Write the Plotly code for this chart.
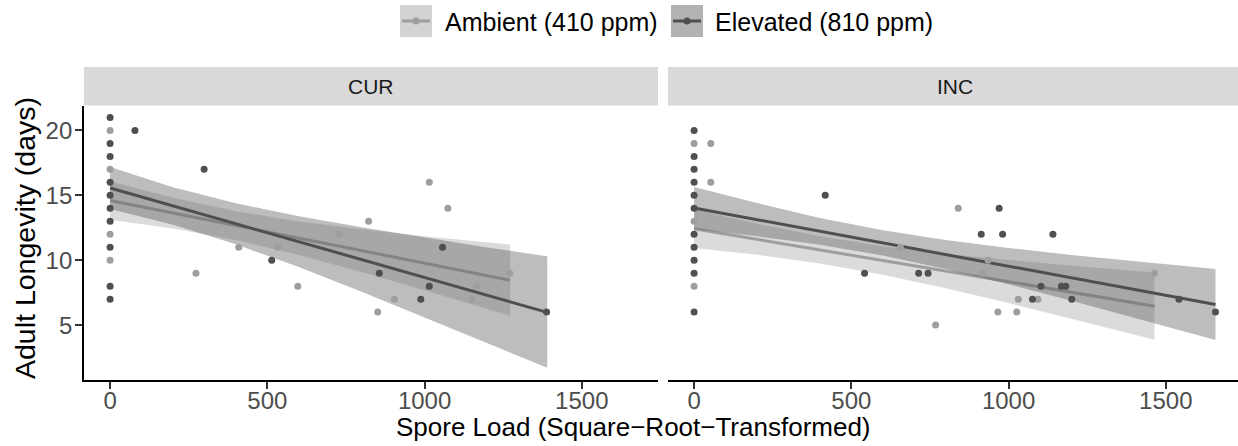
import plotly.graph_objects as go

# ---------------- data ----------------
# CUR panel, Ambient (410 ppm)
cur_amb_x = [0, 0, 0, 0, 273, 409, 534, 597, 729, 822, 851, 904, 1015, 1074, 1150, 1165, 1271]
cur_amb_y = [20, 17, 12, 10, 9, 11, 11, 8, 12, 13, 6, 7, 16, 14, 7, 8, 9]
# CUR panel, Elevated (810 ppm)
cur_elv_x = [0, 0, 0, 0, 0, 0, 0, 0, 0, 0, 79, 299, 514, 856, 988, 1015, 1057, 1388]
cur_elv_y = [21, 19, 18, 16, 15, 14, 13, 11, 8, 7, 20, 17, 10, 9, 7, 8, 11, 6]
# INC panel, Ambient (410 ppm)
inc_amb_x = [0, 0, 0, 53, 53, 656, 768, 840, 915, 935, 966, 1026, 1031, 1093, 1464]
inc_amb_y = [19, 13, 8, 19, 16, 11, 5, 14, 9, 10, 6, 6, 7, 7, 9]
# INC panel, Elevated (810 ppm)
inc_elv_x = [0, 0, 0, 0, 0, 0, 0, 0, 0, 0, 0, 417, 542, 714, 744, 913, 970, 981,
             1076, 1103, 1141, 1168, 1182, 1201, 1542, 1658]
inc_elv_y = [20, 18, 17, 16, 15, 14, 12, 11, 10, 9, 6, 15, 9, 9, 9, 12, 14, 12,
             7, 8, 12, 8, 8, 7, 7, 6]

# fitted lines with confidence bands
cur_amb_fx = [0, 200, 400, 600, 800, 1000, 1272]
cur_amb_fy = [14.60, 13.63, 12.67, 11.70, 10.74, 9.77, 8.46]
cur_amb_lo = [13.12, 12.45, 11.56, 10.41, 9.10, 7.69, 5.71]
cur_amb_hi = [16.08, 14.81, 13.78, 12.99, 12.38, 11.85, 11.21]

cur_elv_fx = [0, 200, 400, 600, 800, 1000, 1200, 1390]
cur_elv_fy = [15.56, 14.18, 12.80, 11.43, 10.05, 8.67, 7.29, 5.98]
cur_elv_lo = [13.94, 12.74, 11.22, 9.47, 7.57, 5.60, 3.60, 1.72]
cur_elv_hi = [17.18, 15.62, 14.38, 13.39, 12.53, 11.74, 10.98, 10.30]

inc_amb_fx = [0, 200, 400, 600, 800, 1000, 1200, 1464]
inc_amb_fy = [12.42, 11.61, 10.79, 9.98, 9.16, 8.35, 7.53, 6.46]
inc_amb_lo = [10.94, 10.42, 9.74, 8.88, 7.84, 6.70, 5.49, 3.87]
inc_amb_hi = [13.90, 12.80, 11.84, 11.08, 10.48, 10.00, 9.57, 9.05]

inc_elv_fx = [0, 200, 400, 600, 800, 1000, 1200, 1400, 1658]
inc_elv_fy = [14.02, 13.12, 12.23, 11.33, 10.44, 9.54, 8.64, 7.75, 6.59]
inc_elv_lo = [12.40, 11.84, 11.20, 10.36, 9.33, 8.14, 6.87, 5.57, 3.86]
inc_elv_hi = [15.64, 14.40, 13.26, 12.30, 11.55, 10.95, 10.41, 9.93, 9.32]

groups = ["Ambient (410 ppm)", "Elevated (810 ppm)"]
panels = ["CUR", "INC"]
x_ticks = [0, 500, 1000, 1500]
y_ticks = [5, 10, 15, 20]

# ---------------- styles ----------------
FONT = "Liberation Sans, Arial, Helvetica, sans-serif"
pt_col = {"amb": "#9E9E9E", "elv": "#4F4F4F"}
band_col = {"amb": "rgba(160,160,160,0.38)", "elv": "rgba(90,90,90,0.40)"}
key_col = {"amb": "#D3D3D3", "elv": "#B3B3B3"}

W, H = 1238, 446
ML, MR, MT, MB = 84, 0, 67, 66
PW, PH = W - ML - MR, H - MT - MB


def px(x):
    return (x - ML) / PW


def py(y):
    return (H - MB - y) / PH


fig = go.Figure()

panel_data = [
    ("x", "y", [
        ("amb", cur_amb_fx, cur_amb_fy, cur_amb_lo, cur_amb_hi, cur_amb_x, cur_amb_y),
        ("elv", cur_elv_fx, cur_elv_fy, cur_elv_lo, cur_elv_hi, cur_elv_x, cur_elv_y),
    ]),
    ("x2", "y2", [
        ("amb", inc_amb_fx, inc_amb_fy, inc_amb_lo, inc_amb_hi, inc_amb_x, inc_amb_y),
        ("elv", inc_elv_fx, inc_elv_fy, inc_elv_lo, inc_elv_hi, inc_elv_x, inc_elv_y),
    ]),
]

for xa, ya, series in panel_data:
    # smooth layers: ribbon + line per group
    for key, fx, fy, lo, hi, _, _ in series:
        fig.add_trace(go.Scatter(
            x=list(fx) + list(fx)[::-1], y=list(hi) + list(lo)[::-1],
            fill="toself", fillcolor=band_col[key], line=dict(width=0),
            mode="lines", hoverinfo="skip", showlegend=False, xaxis=xa, yaxis=ya))
        fig.add_trace(go.Scatter(
            x=fx, y=fy, mode="lines", line=dict(color=pt_col[key], width=3),
            showlegend=False, xaxis=xa, yaxis=ya))
    # points on top
    for key, _, _, _, _, x, y in series:
        fig.add_trace(go.Scatter(
            x=x, y=y, mode="markers",
            marker=dict(color=pt_col[key], size=7, line=dict(width=0)),
            showlegend=False, xaxis=xa, yaxis=ya))

scale = 0.31447  # px per x unit
x0 = -83
left_w = 574
right_start = 668
right_w = W - right_start

xcommon = dict(tickmode="array", tickvals=x_ticks, ticktext=[str(v) for v in x_ticks],
               ticks="outside", ticklen=7, tickwidth=1.5, tickcolor="#333333",
               ticklabelstandoff=-9,
               showline=True, linecolor="black", linewidth=1.8, showgrid=False,
               zeroline=False, tickfont=dict(family=FONT, size=24, color="#4D4D4D"))

ydom = [0, py(105.5)]

fig.update_layout(
    width=W, height=H,
    margin=dict(l=ML, r=MR, t=MT, b=MB, autoexpand=False),
    paper_bgcolor="white", plot_bgcolor="white",
    showlegend=False,
    xaxis=dict(domain=[0, left_w / PW], range=[x0, x0 + left_w / scale], anchor="y", **xcommon),
    xaxis2=dict(domain=[px(right_start), 1], range=[x0, x0 + right_w / scale], anchor="y2", **xcommon),
    yaxis=dict(domain=ydom, range=[0.77, 21.92], anchor="x", tickmode="array",
               tickvals=y_ticks, ticktext=[str(v) for v in y_ticks],
               ticks="outside", ticklen=7, tickwidth=1.5, tickcolor="#333333",
               ticklabelstandoff=-2,
               showline=True, linecolor="black", linewidth=1.8, showgrid=False,
               zeroline=False, tickfont=dict(family=FONT, size=24, color="#4D4D4D")),
    yaxis2=dict(domain=ydom, range=[0.77, 21.92], anchor="x2", showticklabels=False,
                ticks="", showline=False, showgrid=False, zeroline=False),
)

shapes = []
annotations = []

# facet strips
strip_boxes = [(ML, ML + left_w), (right_start, W)]
strip_text_x = [ML + left_w / 2, 955]
for (a, b), name, tx in zip(strip_boxes, panels, strip_text_x):
    shapes.append(dict(type="rect", xref="paper", yref="paper",
                       x0=px(a), x1=px(b), y0=py(105.5), y1=py(67),
                       fillcolor="#D9D9D9", line=dict(width=0), layer="below"))
    annotations.append(dict(text=name, xref="paper", yref="paper",
                            x=px(tx), y=py(86.5),
                            xanchor="center", yanchor="middle", showarrow=False,
                            font=dict(family=FONT, size=21, color="#1A1A1A")))

# legend (drawn manually to reproduce ggplot key boxes)
legend_items = [("amb", 400, 443), ("elv", 671, 713)]
for (key, kx, tx), label in zip(legend_items, groups):
    shapes.append(dict(type="rect", xref="paper", yref="paper",
                       x0=px(kx), x1=px(kx + 32), y0=py(37), y1=py(5),
                       fillcolor=key_col[key], line=dict(width=0)))
    shapes.append(dict(type="line", xref="paper", yref="paper",
                       x0=px(kx + 2), x1=px(kx + 30), y0=py(21), y1=py(21),
                       line=dict(color=pt_col[key], width=3)))
    shapes.append(dict(type="circle", xref="paper", yref="paper",
                       x0=px(kx + 16 - 3.5), x1=px(kx + 16 + 3.5),
                       y0=py(21 + 3.5), y1=py(21 - 3.5),
                       fillcolor=pt_col[key], line=dict(width=0)))
    annotations.append(dict(text=label, xref="paper", yref="paper",
                            x=px(tx), y=py(22), xanchor="left", yanchor="middle",
                            showarrow=False, font=dict(family=FONT, size=25, color="black")))

# axis titles
annotations.append(dict(text="Spore Load (Square\u2212Root\u2212Transformed)",
                        xref="paper", yref="paper", x=px(633), y=py(427),
                        xanchor="center", yanchor="middle", showarrow=False,
                        font=dict(family=FONT, size=26, color="black")))
annotations.append(dict(text="Adult Longevity (days)", xref="paper", yref="paper",
                        x=px(25), y=py(238), xanchor="center", yanchor="middle",
                        textangle=-90, showarrow=False,
                        font=dict(family=FONT, size=28.5, color="black")))

fig.update_layout(shapes=shapes, annotations=annotations)

fig.write_html("out.html", config={"displayModeBar": False},
               post_script="document.body.style.margin='0';document.body.style.padding='0';"
                           "document.body.style.overflow='hidden';")
